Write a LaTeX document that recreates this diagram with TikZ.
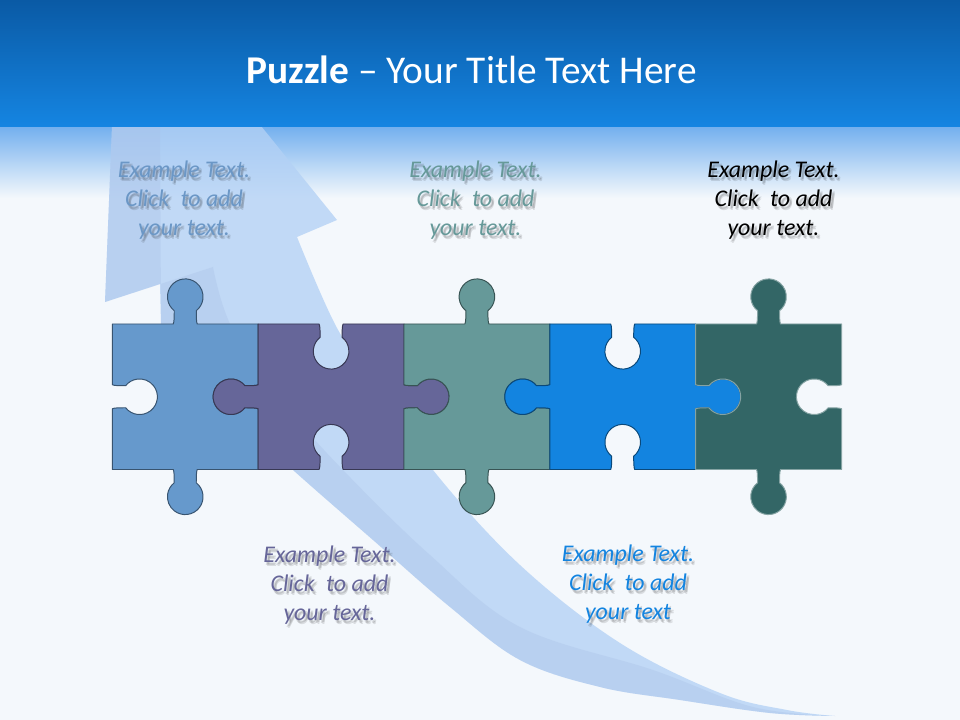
\documentclass[tikz,border=0pt]{standalone}
\usepackage{fontspec}
\setmainfont{Carlito}
\usetikzlibrary{calc}
\definecolor{bgc}{HTML}{F4F8FC}
\definecolor{hdtop}{HTML}{0A5AA5}
\definecolor{hdbot}{HTML}{1585E2}
\definecolor{fadetop}{HTML}{72AFEE}
\definecolor{arrowlight}{HTML}{B3D1F5}
\definecolor{arrowdark}{HTML}{A9C0E6}
\definecolor{pcA}{HTML}{6699CC}
\definecolor{pcB}{HTML}{666699}
\definecolor{pcC}{HTML}{669999}
\definecolor{pcD}{HTML}{1384E0}
\definecolor{pcE}{HTML}{336666}
\definecolor{txA}{HTML}{6B97C6}
% knob (out) and hole (in) on an edge; #1,#2 = edge midpoint, #3 = angle of outward normal
\newcommand\pzK[3]{%
 -- ($(#1,#2)+({#3+90}:-12)$)
 .. controls ($(#1,#2)+({#3+90}:-11)+(#3:2)$) and ($(#1,#2)+({#3+90}:-11)+(#3:8)$) .. ($(#1,#2)+({#3+90}:-11)+(#3:13.3)$)
 arc[start angle={#3-141.8}, end angle={#3+141.8}, radius=17.8]
 .. controls ($(#1,#2)+({#3+90}:11)+(#3:8)$) and ($(#1,#2)+({#3+90}:11)+(#3:2)$) .. ($(#1,#2)+({#3+90}:12)$)}
\newcommand\pzH[3]{%
 -- ($(#1,#2)+({#3+90}:-12)$)
 .. controls ($(#1,#2)+({#3+90}:-11)+(#3:-2)$) and ($(#1,#2)+({#3+90}:-11)+(#3:-8)$) .. ($(#1,#2)+({#3+90}:-11)+(#3:-13.3)$)
 arc[start angle={#3-38.2}, end angle={#3-321.8}, radius=17.8]
 .. controls ($(#1,#2)+({#3+90}:11)+(#3:-8)$) and ($(#1,#2)+({#3+90}:11)+(#3:-2)$) .. ($(#1,#2)+({#3+90}:12)$)}
% piece with knobs top/bottom, holes left/right
\newcommand\pieceKH[4]{%
 \filldraw[#4] (#1,324) \pzK{#2}{324}{270} -- (#3,324) \pzH{#3}{396.75}{0} -- (#3,469.5) \pzK{#2}{469.5}{90} -- (#1,469.5) \pzH{#1}{396.75}{180} -- cycle;}
% piece with holes top/bottom, knobs left/right
\newcommand\pieceHK[4]{%
 \filldraw[#4] (#1,324) \pzH{#2}{324}{270} -- (#3,324) \pzK{#3}{396.75}{0} -- (#3,469.5) \pzH{#2}{469.5}{90} -- (#1,469.5) \pzK{#1}{396.75}{180} -- cycle;}
\tikzset{
  piece/.style={line width=0.7pt, line join=round},
  txt/.style={font=\itshape\fontsize{17}{20.6}\selectfont, align=center, inner sep=0pt},
  shad/.style={txt, text=black, text opacity=0.11},
}
% soft drop shadow: a few faint offset copies
\newcommand\shadowtext[4]{%
 \node[shad] (#1a) at ($(#2,#3)+(1.5,2.5)$) {#4};
 \node[shad] (#1b) at ($(#2,#3)+(2.8,3.8)$) {#4};
 \node[shad] (#1c) at ($(#2,#3)+(3,1.8)$) {#4};}
\begin{document}
\begin{tikzpicture}[x=0.025cm,y=-0.025cm]
\useasboundingbox (0,0) rectangle (960,720);
% background
\fill[bgc] (0,0) rectangle (960,720);
\shade[top color=fadetop, bottom color=bgc] (0,126) rectangle (960,198);
% arrow (light body)
\fill[arrowlight, opacity=0.78] (113,100) -- (105,302) -- (160,284) -- (161,324)
  -- plot[smooth, tension=0.6] coordinates {(161,324) (222,405) (293,470) (373,540) (450,607) (520,660) (600,687) (680,700) (770,713) (835,716)}
  -- plot[smooth, tension=0.6] coordinates {(835,716) (787,710) (720,693) (620,643) (520,565) (433,470) (380,390) (337,328) (297,237)}
  -- (337,220) -- (240,100) -- cycle;
% arrow (darker strip)
\fill[arrowdark, opacity=0.35] (113,100) -- (105,302) -- (213,267)
  -- plot[smooth, tension=0.6] coordinates {(213,267) (233,330) (290,410) (343,470) (430,555) (520,627) (653,670) (753,707) (835,716)}
  -- plot[smooth, tension=0.6] coordinates {(835,716) (770,713) (680,700) (600,687) (520,660) (450,607) (373,540) (293,470) (222,405) (161,324)}
  -- (160,100) -- cycle;
% header
\shade[top color=hdtop, bottom color=hdbot] (0,0) rectangle (960,127);
\node[text=white, font=\fontsize{28}{32}\selectfont, inner sep=0pt] (title) at (471.5,70) {\textbf{Puzzle} – Your Title Text Here};
% puzzle pieces
\pieceKH{112.3}{185.25}{258.2}{piece, fill=pcA, draw=pcA!55!black}
\pieceHK{258.2}{331.1}{404}{piece, fill=pcB, draw=pcB!55!black}
\pieceKH{404}{476.9}{549.8}{piece, fill=pcC, draw=pcC!55!black}
\pieceHK{549.8}{622.7}{695.6}{piece, fill=pcD, draw=pcD!55!black}
\pieceKH{695.6}{768.55}{841.5}{piece, fill=pcE, draw=pcE!60!white}
% texts
\shadowtext{s1}{184}{200.5}{Example Text.\\Click\hspace{0.25em} to add\\your text.}
\node[txt, text=txA] (t1) at (184,200.5) {Example Text.\\Click\hspace{0.25em} to add\\your text.};
\shadowtext{s2}{475.5}{200.5}{Example Text.\\Click\hspace{0.25em} to add\\your text.}
\node[txt, text=pcC] (t2) at (475.5,200.5) {Example Text.\\Click\hspace{0.25em} to add\\your text.};
\shadowtext{s3}{773.5}{200.5}{Example Text.\\Click\hspace{0.25em} to add\\your text.}
\node[txt, text=black] (t3) at (773.5,200.5) {Example Text.\\Click\hspace{0.25em} to add\\your text.};
\shadowtext{s4}{329.5}{585.5}{Example Text.\\Click\hspace{0.25em} to add\\your text.}
\node[txt, text=pcB] (t4) at (329.5,585.5) {Example Text.\\Click\hspace{0.25em} to add\\your text.};
\shadowtext{s5}{628}{584.5}{Example Text.\\Click\hspace{0.25em} to add\\your text}
\node[txt, text=pcD] (t5) at (628,584.5) {Example Text.\\Click\hspace{0.25em} to add\\your text};
\end{tikzpicture}
\end{document}
